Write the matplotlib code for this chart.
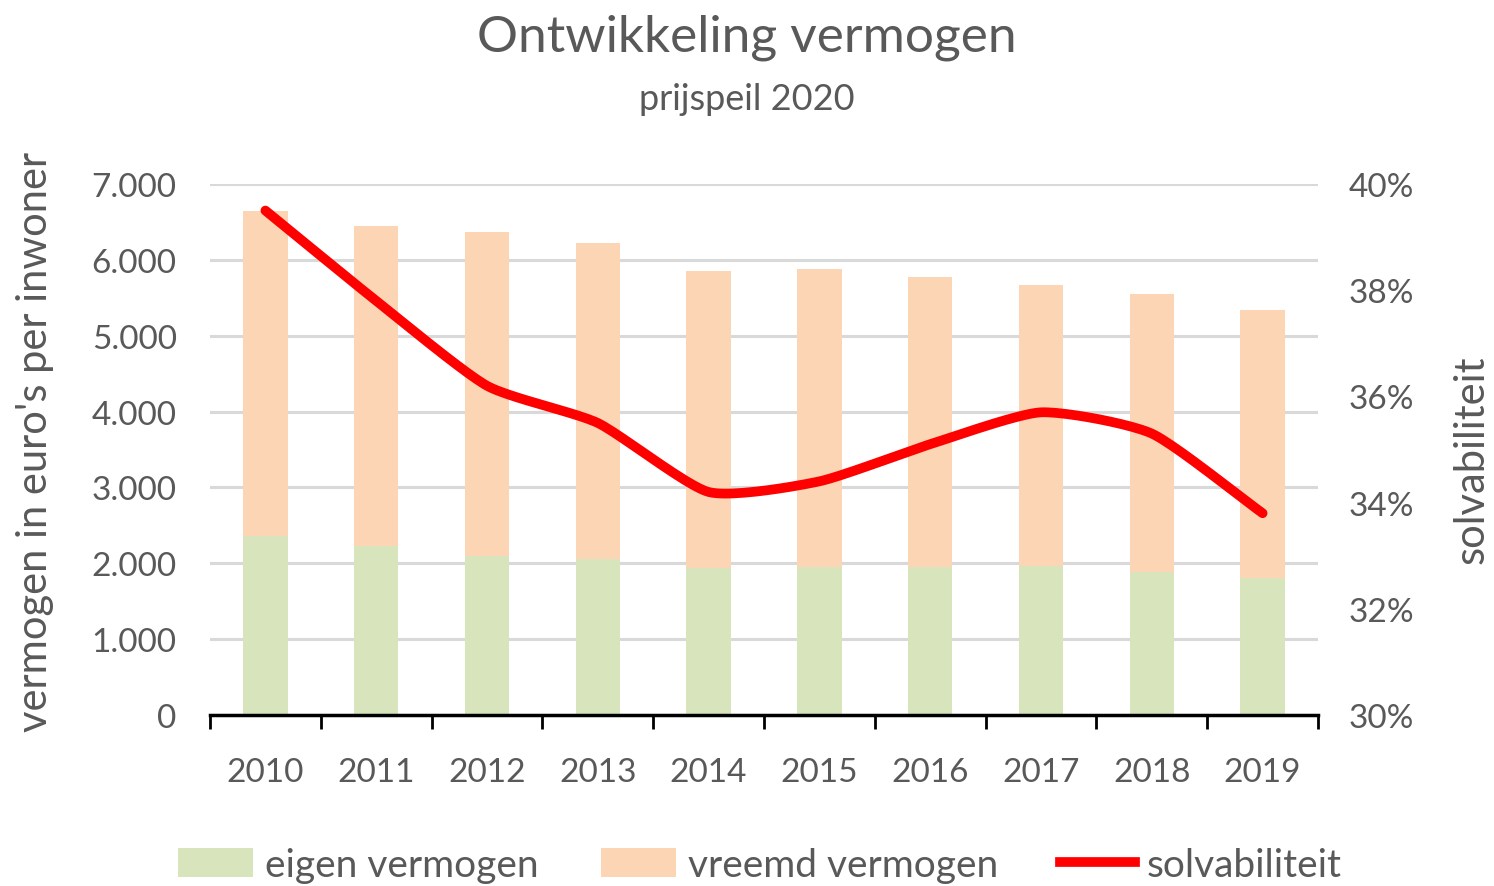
import numpy as np
import matplotlib
matplotlib.use("Agg")
import matplotlib.pyplot as plt
from matplotlib.ticker import FuncFormatter, FixedLocator

years = ["2010", "2011", "2012", "2013", "2014", "2015", "2016", "2017", "2018", "2019"]
eigen = [2360, 2230, 2100, 2060, 1940, 1950, 1950, 1960, 1890, 1810]
totaal = [6640, 6450, 6370, 6220, 5850, 5880, 5770, 5670, 5550, 5340]
vreemd = [t - e for t, e in zip(totaal, eigen)]
solv = [0.395, 0.378, 0.362, 0.355, 0.342, 0.344, 0.351, 0.357, 0.353, 0.338]

TXT = "#595959"
FONT = ["Lato", "DejaVu Sans"]
plt.rcParams["font.family"] = FONT

fig = plt.figure(figsize=(14.94, 8.87), dpi=100)
ax = fig.add_axes([210/1494, 1-716/887, (1318-210)/1494, (716-185)/887])
x = np.arange(len(years))

ax.bar(x, eigen, width=0.40, color="#D8E4BC", label="eigen vermogen", zorder=2)
ax.bar(x, vreemd, bottom=eigen, width=0.40, color="#FCD5B5", label="vreemd vermogen", zorder=2)

ax.set_xlim(-0.5, len(years) - 0.5)
ax.set_ylim(0, 7000)
ax.set_yticks(np.arange(0, 7001, 1000))
ax.yaxis.set_major_formatter(FuncFormatter(lambda v, p: f"{int(v):,}".replace(",", ".")))
ax.grid(axis="y", color="#D9D9D9", linewidth=2.2, zorder=0)
ax.set_axisbelow(True)

ax.xaxis.set_major_locator(FixedLocator(np.arange(-0.5, len(years), 1.0)))
ax.xaxis.set_minor_locator(FixedLocator(x))
ax.set_xticklabels([])
ax.set_xticklabels(years, minor=True)
ax.tick_params(axis="x", which="major", length=10, width=2, color="black", direction="out")
ax.tick_params(axis="x", which="minor", length=0, pad=30, labelsize=24, labelcolor=TXT)
ax.tick_params(axis="y", length=0, pad=24, labelsize=24, labelcolor=TXT)

for s in ["top", "right", "left"]:
    ax.spines[s].set_visible(False)
ax.spines["bottom"].set_color("black")
ax.spines["bottom"].set_linewidth(2.5)

ax2 = ax.twinx()
# smoothed curve through the data points, like Excel's smoothed line
px = np.array(x, dtype=float)
py = np.array(solv)
P = np.vstack([px, py]).T
P = np.vstack([P[0] - (P[1] - P[0]), P, P[-1] + (P[-1] - P[-2])])
cx, cy = [], []
tt = np.linspace(0, 1, 24)
k = 0.6
for i in range(1, len(P) - 2):
    p0, p1, p2, p3 = P[i-1], P[i], P[i+1], P[i+2]
    m1 = k * (p2 - p0) / 2
    m2 = k * (p3 - p1) / 2
    for t in tt:
        h00 = 2*t**3 - 3*t**2 + 1
        h10 = t**3 - 2*t**2 + t
        h01 = -2*t**3 + 3*t**2
        h11 = t**3 - t**2
        c = h00*p1 + h10*m1 + h01*p2 + h11*m2
        cx.append(c[0]); cy.append(c[1])
ax2.plot(cx, cy, color="#FF0000", linewidth=7, solid_capstyle="round", solid_joinstyle="round", zorder=3)
line_handle = plt.Line2D([], [], color="#FF0000", linewidth=7)

ax2.set_ylim(0.30, 0.40)
ax2.set_yticks(np.arange(0.30, 0.4001, 0.02))
ax2.yaxis.set_major_formatter(FuncFormatter(lambda v, p: f"{v*100:.0f}%"))
ax2.tick_params(axis="y", length=0, pad=22, labelsize=24, labelcolor=TXT)
for s in ["top", "right", "left", "bottom"]:
    ax2.spines[s].set_visible(False)

fig.text(35/1494, 1-442/887, "vermogen in euro's per inwoner", rotation=90, ha="center", va="center",
         fontsize=30, color=TXT)
fig.text(1472/1494, 1-460/887, "solvabiliteit", rotation=90, ha="center", va="center",
         fontsize=30, color=TXT)

fig.text(0.5, 1-38/887, "Ontwikkeling vermogen", ha="center", va="center", fontsize=37, color=TXT)
fig.text(0.5, 1-100/887, "prijspeil 2020", ha="center", va="center", fontsize=26, color=TXT)

h1, l1 = ax.get_legend_handles_labels()
fig.legend(h1 + [line_handle], l1 + ["solvabiliteit"], loc="center", bbox_to_anchor=(760/1494, 1-866/887),
           ncol=3, frameon=False, fontsize=28, labelcolor=TXT, handlelength=1.93, handleheight=0.75,
           handletextpad=0.3, columnspacing=1.6)

fig.savefig("out.png", dpi=100)
